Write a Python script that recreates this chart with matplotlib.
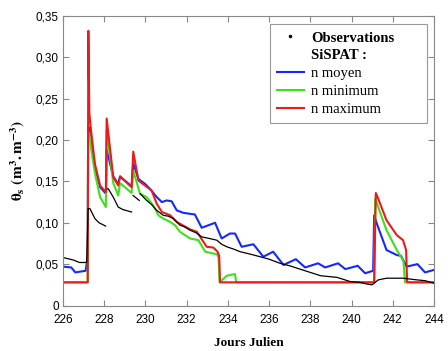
import numpy as np
import matplotlib
matplotlib.use("Agg")
import matplotlib.pyplot as plt
from matplotlib.lines import Line2D

plt.rcParams['font.family'] = ['Liberation Sans', 'DejaVu Sans']
plt.rcParams['mathtext.fontset'] = 'stix'

# Observations (gaps = missing data)
obs_day = [226, 226.5, 226.8, 227.15, 227.22, 227.31, 227.55, 227.75, 228.07, np.nan,
           228.15, 228.2, 228.44, 228.68, 228.9, 229.33, np.nan,
           229.4, 229.55, 229.7, np.nan,
           229.75, 230.06, 230.3, 230.55, 230.87, 231.1, 231.36, 231.68, 231.9, 232.17,
           232.45, 232.73, 233.1, 233.46, 233.7, 233.95, 234.3, 234.6, 235.1, 235.56,
           236.0, 236.53, 237.0, 237.5, 238.0, 238.5, 239.3, 239.93, 240.4, 240.74,
           241.0, 241.3, 241.7, 242.5, 243.17, 243.57, 244]
obs_val = [0.058, 0.055, 0.052, 0.052, 0.117, 0.117, 0.105, 0.100, 0.096, np.nan,
           0.141, 0.141, 0.131, 0.119, 0.116, 0.113, np.nan,
           0.133, 0.130, 0.127, np.nan,
           0.135, 0.127, 0.122, 0.115, 0.109, 0.108, 0.105, 0.097, 0.095, 0.091,
           0.088, 0.083, 0.081, 0.079, 0.074, 0.071, 0.068, 0.065, 0.062, 0.059,
           0.056, 0.051, 0.048, 0.044, 0.040, 0.036, 0.034, 0.029, 0.028, 0.026,
           0.025, 0.031, 0.033, 0.033, 0.031, 0.030, 0.027]

# SiSPAT - n moyen
moy_day = [226, 226.4, 226.6, 227.1, 227.2, 227.22, 227.3, 227.39, 227.55, 227.8, 228.09,
           228.12, 228.44, 228.68, 228.77, 229.33, 229.41, 229.66, 229.98, 230.22,
           230.55, 230.8, 231.03, 231.27, 231.52, 231.84, 232.4, 232.73, 233.38, 233.7,
           234.1, 234.35, 234.67, 235.24, 235.72, 236.2, 236.7, 237.3, 237.75, 238.38,
           238.72, 239.35, 239.7, 240.3, 240.66, 241.05, 241.1, 241.2, 241.7, 242.2,
           242.4, 242.68, 243.2, 243.57, 244]
moy_val = [0.047, 0.046, 0.040, 0.042, 0.060, 0.216, 0.214, 0.196, 0.167, 0.143, 0.135,
           0.188, 0.156, 0.147, 0.156, 0.144, 0.172, 0.153, 0.147, 0.141,
           0.131, 0.125, 0.127, 0.126, 0.115, 0.112, 0.110, 0.094, 0.100, 0.081,
           0.087, 0.087, 0.071, 0.074, 0.059, 0.065, 0.049, 0.056, 0.046, 0.051,
           0.046, 0.051, 0.044, 0.048, 0.039, 0.042, 0.109, 0.101, 0.067, 0.061,
           0.060, 0.047, 0.050, 0.040, 0.043]

# SiSPAT - n minimum
min_day = [226, 227.2, 227.22, 227.3, 227.36, 227.55, 227.8, 228.08, 228.12, 228.44,
           228.68, 228.77, 229.33, 229.41, 229.74, 230.06, 230.38, 230.63, 230.87,
           231.2, 231.44, 231.68, 232.17, 232.57, 232.9, 233.46, 233.55, 233.6, 233.95,
           234.35, 234.4, 241.1, 241.15, 241.7, 242.2, 242.52, 242.6, 244]
min_val = [0.028, 0.028, 0.210, 0.205, 0.190, 0.160, 0.131, 0.119, 0.212, 0.148,
           0.133, 0.148, 0.136, 0.163, 0.135, 0.131, 0.121, 0.109, 0.105,
           0.101, 0.097, 0.089, 0.081, 0.079, 0.065, 0.062, 0.058, 0.028, 0.036,
           0.038, 0.028, 0.028, 0.129, 0.091, 0.067, 0.054, 0.028, 0.028]

# SiSPAT - n maximum
max_day = [226, 227.2, 227.23, 227.28, 227.36, 227.55, 227.8, 228.08, 228.12, 228.44,
           228.68, 228.77, 229.33, 229.41, 229.66, 229.98, 230.3, 230.55, 230.8, 231.2,
           231.52, 232.17, 232.5, 232.97, 233.3, 233.5, 233.58, 233.62, 241.1, 241.18,
           241.25, 241.7, 242.2, 242.5, 242.65, 242.7, 244]
max_val = [0.028, 0.028, 0.332, 0.232, 0.212, 0.171, 0.145, 0.137, 0.226, 0.155,
           0.145, 0.156, 0.143, 0.186, 0.151, 0.145, 0.139, 0.123, 0.113, 0.109,
           0.101, 0.092, 0.089, 0.071, 0.070, 0.065, 0.060, 0.028, 0.028, 0.136,
           0.132, 0.103, 0.085, 0.079, 0.067, 0.028, 0.028]

x_ticks = np.arange(226, 245, 2)
y_ticks = np.arange(0, 0.351, 0.05)

fig = plt.figure(figsize=(4.48, 3.51), dpi=100)
ax = fig.add_axes([0.1406, 0.1296, 0.828, 0.825])

ax.plot(moy_day, moy_val, color='#1428ff', lw=1.5)
ax.plot(min_day, min_val, color='#3ee01c', lw=1.5)
ax.plot(max_day, max_val, color='#ee1a1a', lw=1.5)
ax.plot(obs_day, obs_val, color='black', lw=0.9)

ax.set_xlim(226, 244)
ax.set_ylim(0, 0.35)
ax.set_xticks(x_ticks)
ax.set_yticks(y_ticks)
ax.set_xticklabels([str(t) for t in x_ticks])
ax.set_yticklabels(['0'] + [f'{v:.2f}'.replace('.', ',') for v in y_ticks[1:]])
ax.tick_params(direction='in', top=True, right=True, length=4, width=0.8,
               color='#888888', labelsize=8.5)
ax.tick_params(axis='x', pad=6)
ax.tick_params(axis='y', pad=3)
for s in ax.spines.values():
    s.set_color('#888888')
    s.set_linewidth(0.8)

ax.set_xlabel('Jours Julien', family='Liberation Serif', fontweight='bold',
              fontsize=9.5, labelpad=8)
ax.set_ylabel(r'$\mathbf{\theta_s}$ $\mathbf{(m^3.m^{-3})}$', fontsize=11, labelpad=6)

handles = [Line2D([], [], color='black', marker='.', markersize=3, linestyle='none'),
           Line2D([], [], color='none'),
           Line2D([], [], color='#1428ff', lw=1.5),
           Line2D([], [], color='#3ee01c', lw=1.5),
           Line2D([], [], color='#ee1a1a', lw=1.5)]
labels = ['Observations', 'SiSPAT :', 'n moyen', 'n minimum', 'n maximum']
leg = ax.legend(handles, labels, loc='upper left', mode='expand',
                bbox_to_anchor=(0.558, 0.63, 0.423, 0.342),
                borderaxespad=0, fancybox=False, framealpha=1, edgecolor='#999999',
                prop={'family': 'Liberation Serif', 'size': 10.5},
                handlelength=1.8, handletextpad=0.5, labelspacing=0.32,
                borderpad=0.5)
leg.get_frame().set_linewidth(0.8)
for t in leg.get_texts()[:2]:
    t.set_fontweight('bold')

fig.savefig('out.png', dpi=100)
